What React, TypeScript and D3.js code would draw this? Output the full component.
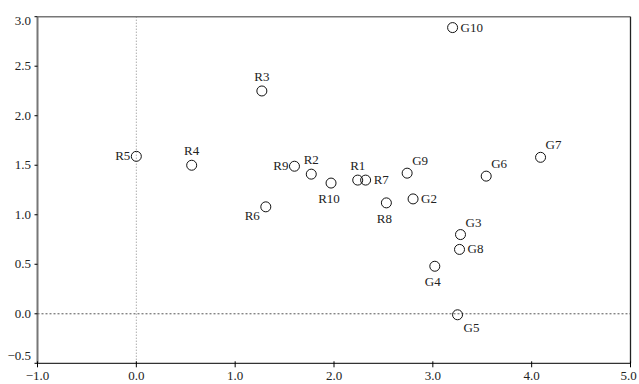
import React from "react";
import * as d3 from "d3";

const labels = ["R1","R2","R3","R4","R5","R6","R7","R8","R9","R10","G2","G3","G4","G5","G6","G7","G8","G9","G10"];
const xValues = [2.24,1.77,1.27,0.56,0.0,1.31,2.32,2.53,1.60,1.97,2.80,3.28,3.02,3.25,3.54,4.09,3.27,2.74,3.20];
const yValues = [1.35,1.41,2.25,1.50,1.59,1.08,1.35,1.12,1.49,1.32,1.16,0.80,0.48,-0.01,1.39,1.58,0.65,1.42,2.89];
const placements = ["N","N","N","N","W","SW","E","S","W","S","E","NE","S","SE","NE","NE","E","NE","E"];
const xTicks = [-1,0,1,2,3,4,5];
const yTicks = [-0.5,0,0.5,1,1.5,2,2.5,3];

const W = 639, H = 384;
const L = 37.5, R = 630.5, T = 16.7, B = 363.3;

const place: Record<string, {dx:number;dy:number;anchor:string}> = {
  N: {dx:0, dy:-10, anchor:"middle"},
  S: {dx:-2, dy:20, anchor:"middle"},
  E: {dx:8, dy:4, anchor:"start"},
  W: {dx:-6, dy:4, anchor:"end"},
  NE: {dx:5, dy:-8, anchor:"start"},
  SE: {dx:6, dy:17, anchor:"start"},
  SW: {dx:-6, dy:13, anchor:"end"},
};

export default function App() {
  const x = d3.scaleLinear().domain([-1,5]).range([L,R]);
  const y = d3.scaleLinear().domain([-0.5,3]).range([B,T]);
  const font = "'Liberation Serif', 'Times New Roman', serif";
  return (
    <svg width={W} height={H} style={{position:"absolute",left:0,top:0,background:"#fff"}} fontFamily={font} fontSize={13}>
      <rect x={0} y={0} width={W} height={H} fill="#fff" />
      {/* reference lines */}
      <line x1={x(0)} x2={x(0)} y1={T} y2={B} stroke="#888" strokeWidth={1} strokeDasharray="1,2" />
      <line x1={L} x2={R} y1={y(0)} y2={y(0)} stroke="#555" strokeWidth={1} strokeDasharray="2,2" />
      {/* frame */}
      <line x1={L} x2={R} y1={T} y2={T} stroke="#777" strokeWidth={1.6} />
      <line x1={R} x2={R} y1={T} y2={B} stroke="#222" strokeWidth={1.3} />
      <line x1={L} x2={R} y1={B} y2={B} stroke="#333" strokeWidth={1.3} />
      <line x1={L} x2={L} y1={T} y2={B} stroke="#777" strokeWidth={2} />
      {/* y ticks */}
      {yTicks.map((t, i) => {
        const yy = y(t);
        const by = i === yTicks.length - 1 ? yy + 8 : i === 0 ? yy - 3 : yy + 4;
        return (
          <g key={"y"+i}>
            <line x1={L-3} x2={L} y1={yy} y2={yy} stroke="#000" strokeWidth={1} />
            <text x={31} y={by} textAnchor="end" fill="#222">{d3.format(".1f")(t)}</text>
          </g>
        );
      })}
      {/* x ticks */}
      {xTicks.map((t, i) => {
        const xx = x(t);
        return (
          <g key={"x"+i}>
            <line x1={xx} x2={xx} y1={B-2} y2={B+4} stroke="#000" strokeWidth={1} />
            <text x={i === xTicks.length - 1 ? xx - 2 : xx} y={380} textAnchor="middle" fill="#222">{d3.format(".1f")(t)}</text>
          </g>
        );
      })}
      {/* points */}
      {labels.map((lab, i) => {
        const cx = x(xValues[i]);
        const cy = y(yValues[i]);
        const p = place[placements[i]];
        return (
          <g key={lab}>
            <circle cx={cx} cy={cy} r={5} fill="none" stroke="#111" strokeWidth={1} />
            <text x={cx + p.dx} y={cy + p.dy} textAnchor={p.anchor} fill="#222">{lab}</text>
          </g>
        );
      })}
    </svg>
  );
}
